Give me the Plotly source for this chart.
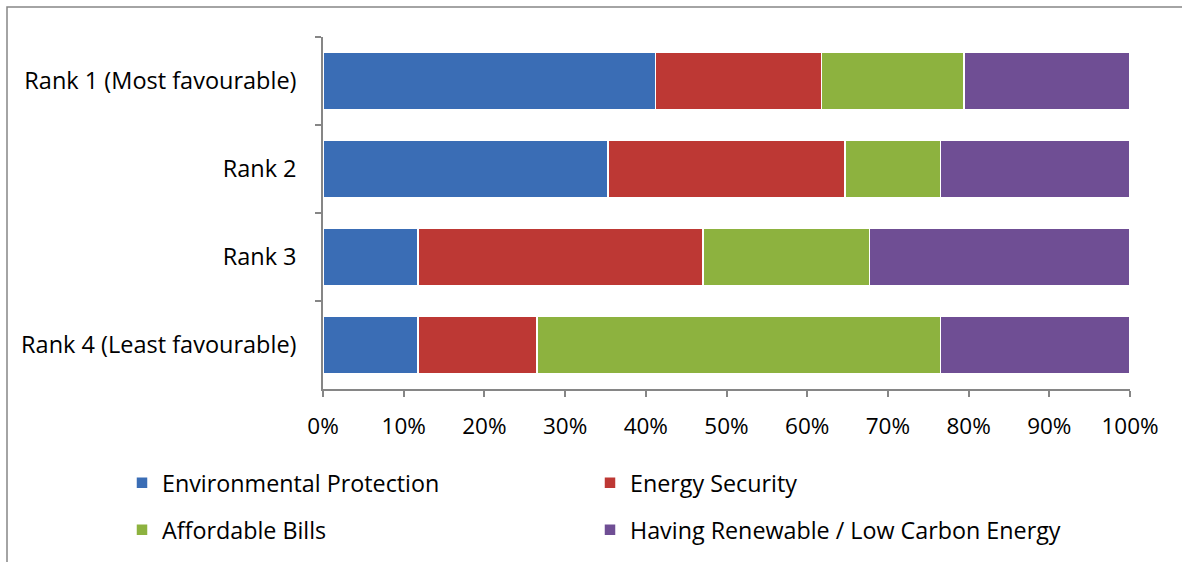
import plotly.graph_objects as go

categories = ["Rank 1 (Most favourable)", "Rank 2", "Rank 3", "Rank 4 (Least favourable)"]
env = [41.2, 35.3, 11.8, 11.8]
energy = [20.6, 29.4, 35.3, 14.7]
afford = [17.6, 11.8, 20.6, 50.0]
renew = [20.6, 23.5, 32.3, 23.5]

series = [
    ("Environmental Protection", env, "#3A6DB5", "legend"),
    ("Energy Security", energy, "#BD3834", "legend2"),
    ("Affordable Bills", afford, "#8DB23F", "legend3"),
    ("Having Renewable / Low Carbon Energy", renew, "#6F4E94", "legend4"),
]

FONT = "Open Sans"
fig = go.Figure()
for name, vals, col, lg in series:
    fig.add_trace(go.Bar(
        y=categories, x=vals, name=name, orientation="h",
        marker=dict(color=col, line=dict(color="white", width=1.5)),
        legend=lg, showlegend=True,
    ))

L, R, T, B = 323, 1130, 37, 390
W, H = 1182, 562
pw, ph = R - L, B - T

def px_x(x):
    return (x - L) / pw

def px_y(y):
    return (B - y) / ph

def leg(xp, yp):
    return dict(orientation="h", x=px_x(xp), xanchor="left",
                y=px_y(yp), yanchor="middle", font=dict(size=23.3),
                bgcolor="rgba(0,0,0,0)")

fig.update_layout(
    width=W, height=H,
    margin=dict(l=L, r=W - R, t=T, b=H - B),
    barmode="stack", bargap=0.35, showlegend=True,
    plot_bgcolor="white", paper_bgcolor="white",
    font=dict(family=FONT, size=22, color="#000000"),
    xaxis=dict(range=[0, 100], tickvals=list(range(0, 101, 10)),
               ticktext=[f"{v}%" for v in range(0, 101, 10)],
               showgrid=False, zeroline=False,
               showline=True, linecolor="#868686", linewidth=1.5,
               ticks="outside", ticklen=6, tickcolor="#868686", tickwidth=1.5,
               ticklabelstandoff=10,
               tickfont=dict(size=22.5)),
    yaxis=dict(type="category", autorange="reversed", tickson="boundaries",
               showgrid=False, zeroline=False,
               showline=True, linecolor="#868686", linewidth=1.5,
               ticks="outside", ticklen=6, tickcolor="#868686", tickwidth=1.5,
               ticklabelstandoff=20,
               tickfont=dict(size=23.5)),
    legend=leg(122, 483),
    legend2=leg(590, 483),
    legend3=leg(122, 530),
    legend4=leg(590, 530),
    shapes=[dict(type="rect", xref="paper", yref="paper",
                 x0=px_x(7), x1=px_x(1200), y0=px_y(600), y1=px_y(7),
                 line=dict(color="#868686", width=1.5), fillcolor="rgba(0,0,0,0)", layer="below")],
)

fig.write_html("out.html")
